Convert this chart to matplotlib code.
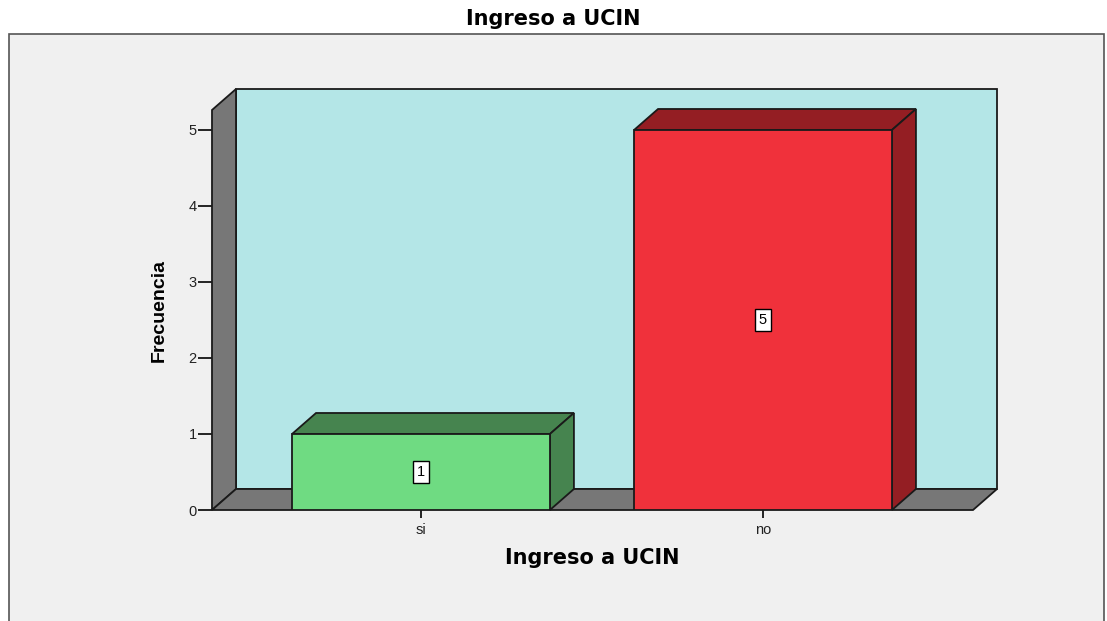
import matplotlib.pyplot as plt
from matplotlib.patches import Polygon, Rectangle
import numpy as np

categories = ['si', 'no']
counts = [1, 5]
title = 'Ingreso a UCIN'
xlabel = 'Ingreso a UCIN'
ylabel = 'Frecuencia'
yticks = [0, 1, 2, 3, 4, 5]

front_colors = ['#6fdb82', '#f0313b']
dark_colors = ['#46844f', '#941e23']
wall_color = '#777777'
back_color = '#b4e6e7'
bg = '#f0f0f0'

DX, DY = 24, 21  # depth offset in pixels

fig = plt.figure(figsize=(11.07, 6.21), dpi=100)
fig.patch.set_facecolor('white')
# outer frame of the chart
frame = Rectangle((9 / 1107, -0.05), 1095 / 1107, 1.05 - 34 / 621,
                  transform=fig.transFigure, facecolor=bg,
                  edgecolor='#555555', lw=1.2, zorder=-5)
fig.add_artist(frame)

ax = fig.add_axes([212 / 1107, (621 - 510) / 621, 761 / 1107, 400 / 621])
ax.set_facecolor('none')
ax.set_zorder(2)
x0, x1 = -0.611, 1.614
top = 5.263
ax.set_xlim(x0, x1)
ax.set_ylim(0, top)
for s in ax.spines.values():
    s.set_visible(False)


def poly(front, back, color, z):
    # front points in data coords, back points shifted by depth
    f = ax.transData.transform(front)
    b = ax.transData.transform(back) + [DX, DY]
    pts = np.vstack([f, b])
    p = Polygon(pts, closed=True, transform=None, facecolor=color,
                edgecolor='#1a1a1a', lw=1.3, zorder=z, clip_on=False)
    ax.add_artist(p)


# back wall
poly(np.empty((0, 2)), [(x0, 0), (x1, 0), (x1, top), (x0, top)], back_color, 1)
# left wall
poly([(x0, 0), (x0, top)], [(x0, top), (x0, 0)], wall_color, 2)
# floor
poly([(x0, 0), (x1, 0)], [(x1, 0), (x0, 0)], wall_color, 2)

w = 0.754
for i, (c, v) in enumerate(zip(categories, counts)):
    l, r = i - w / 2, i + w / 2
    ax.bar(i, v, width=w, color=front_colors[i], edgecolor='#1a1a1a', lw=1.3, zorder=4)
    poly([(l, v), (r, v)], [(r, v), (l, v)], dark_colors[i], 3)
    poly([(r, 0), (r, v)], [(r, v), (r, 0)], dark_colors[i], 3)
    ax.text(i, v / 2, str(v), ha='center', va='center', fontsize=10.5,
            family='Liberation Sans', zorder=6,
            bbox=dict(boxstyle='square,pad=0.25', fc='white', ec='black', lw=1))

ax.set_xticks(range(len(categories)))
ax.set_xticklabels(categories, family='Liberation Sans')
ax.set_yticks(yticks)
ax.set_yticklabels([str(t) for t in yticks], family='Liberation Sans')
ax.tick_params(axis='y', length=10, width=1.2, labelsize=10.5, pad=1, labelcolor='#222222')
ax.tick_params(axis='x', length=6, width=1.2, labelsize=10.5, pad=3, labelcolor='#222222')

ax.set_xlabel(xlabel, fontsize=15, fontweight='bold', family='DejaVu Sans', labelpad=8)
ax.set_ylabel(ylabel, fontsize=14, fontweight='bold',
              family=['Liberation Sans Narrow', 'Liberation Sans'], labelpad=15)
fig.text(0.5, 1 - 19 / 621, title, ha='center', va='center', fontsize=15,
         fontweight='bold', family='DejaVu Sans')

fig.savefig('out.png', dpi=100)
